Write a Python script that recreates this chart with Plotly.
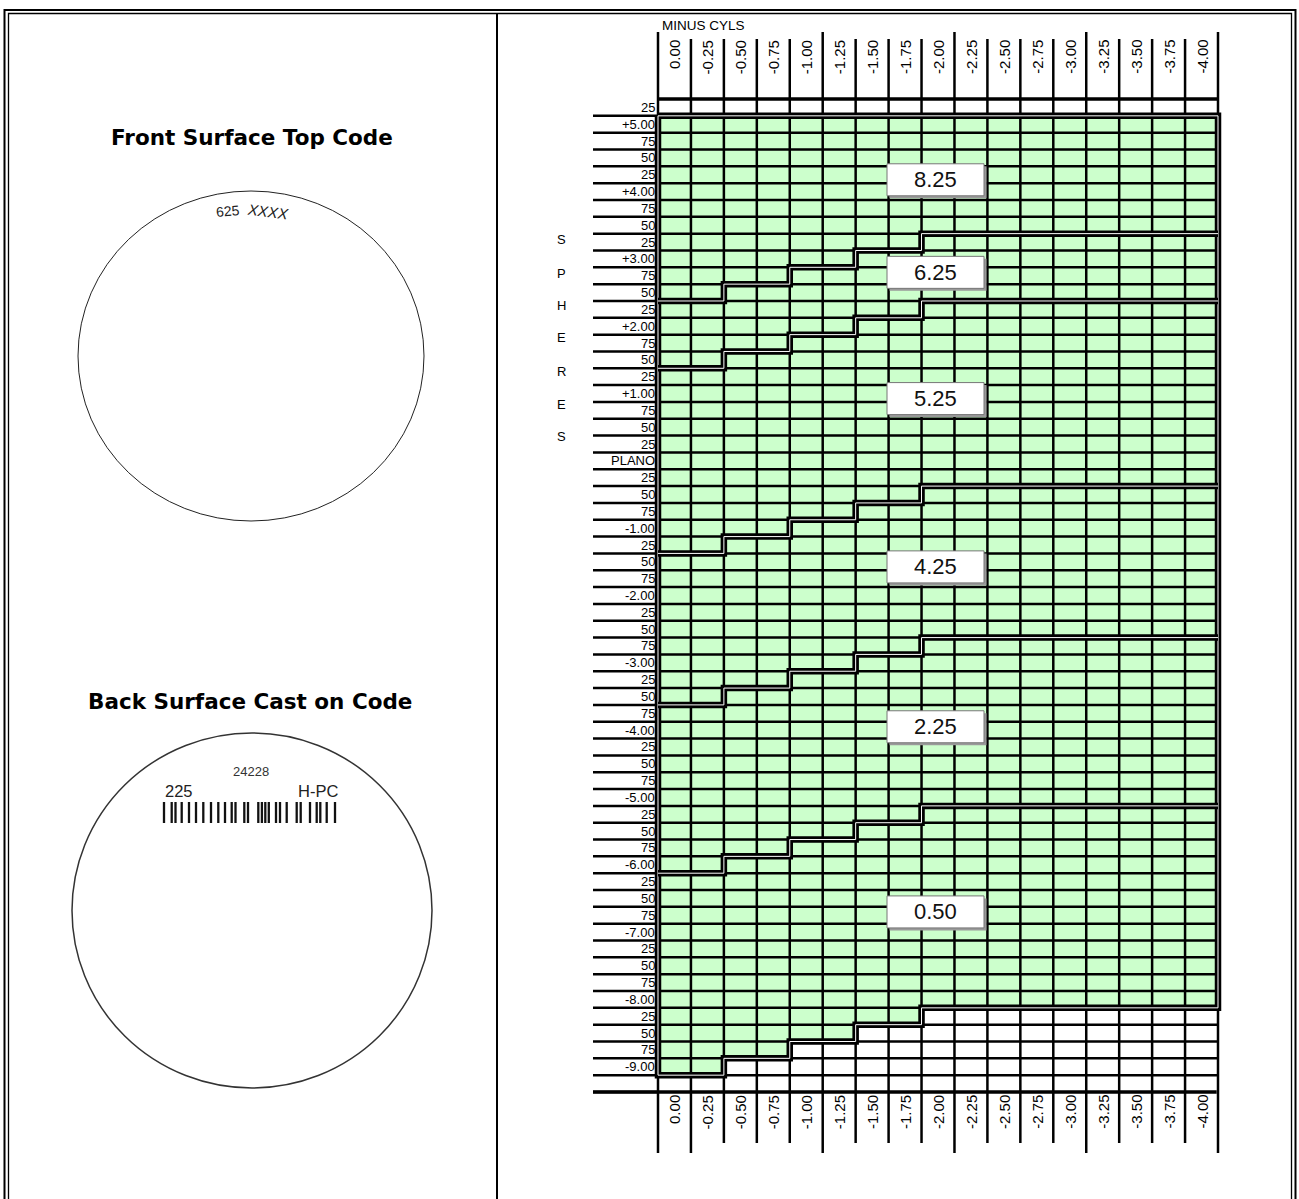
import plotly.graph_objects as go

W, H = 1299, 1199

# ---------------- data ----------------
cyl_values = [0.00, -0.25, -0.50, -0.75, -1.00, -1.25, -1.50, -1.75, -2.00,
              -2.25, -2.50, -2.75, -3.00, -3.25, -3.50, -3.75, -4.00]
cyl_labels = ["0.00", "-0.25", "-0.50", "-0.75", "-1.00", "-1.25", "-1.50", "-1.75", "-2.00",
              "-2.25", "-2.50", "-2.75", "-3.00", "-3.25", "-3.50", "-3.75", "-4.00"]

sphere_values = [5.25, 5.00, 4.75, 4.50, 4.25, 4.00, 3.75, 3.50, 3.25, 3.00, 2.75, 2.50,
                 2.25, 2.00, 1.75, 1.50, 1.25, 1.00, 0.75, 0.50, 0.25, 0.00, -0.25, -0.50,
                 -0.75, -1.00, -1.25, -1.50, -1.75, -2.00, -2.25, -2.50, -2.75, -3.00, -3.25,
                 -3.50, -3.75, -4.00, -4.25, -4.50, -4.75, -5.00, -5.25, -5.50, -5.75, -6.00,
                 -6.25, -6.50, -6.75, -7.00, -7.25, -7.50, -7.75, -8.00, -8.25, -8.50, -8.75,
                 -9.00, -9.25]
sphere_labels = ["25", "+5.00", "75", "50", "25", "+4.00", "75", "50", "25", "+3.00", "75", "50",
                 "25", "+2.00", "75", "50", "25", "+1.00", "75", "50", "25", "PLANO", "25", "50",
                 "75", "-1.00", "25", "50", "75", "-2.00", "25", "50", "75", "-3.00", "25",
                 "50", "75", "-4.00", "25", "50", "75", "-5.00", "25", "50", "75", "-6.00",
                 "25", "50", "75", "-7.00", "25", "50", "75", "-8.00", "25", "50", "75",
                 "-9.00", ""]

base_curves = ["8.25", "6.25", "5.25", "4.25", "2.25", "0.50"]
zone_top_sphere = 5.00
# sphere of the first row below each base-curve zone, per cylinder column
end_8_25 = [2.25, 2.25, 2.50, 2.50, 2.75, 2.75, 3.00, 3.00, 3.25, 3.25, 3.25, 3.25, 3.25, 3.25, 3.25, 3.25, 3.25]
end_6_25 = [1.25, 1.25, 1.50, 1.50, 1.75, 1.75, 2.00, 2.00, 2.25, 2.25, 2.25, 2.25, 2.25, 2.25, 2.25, 2.25, 2.25]
end_5_25 = [-1.50, -1.50, -1.25, -1.25, -1.00, -1.00, -0.75, -0.75, -0.50, -0.50, -0.50, -0.50, -0.50, -0.50, -0.50, -0.50, -0.50]
end_4_25 = [-3.75, -3.75, -3.50, -3.50, -3.25, -3.25, -3.00, -3.00, -2.75, -2.75, -2.75, -2.75, -2.75, -2.75, -2.75, -2.75, -2.75]
end_2_25 = [-6.25, -6.25, -6.00, -6.00, -5.75, -5.75, -5.50, -5.50, -5.25, -5.25, -5.25, -5.25, -5.25, -5.25, -5.25, -5.25, -5.25]
end_0_50 = [-9.25, -9.25, -9.00, -9.00, -8.75, -8.75, -8.50, -8.50, -8.25, -8.25, -8.25, -8.25, -8.25, -8.25, -8.25, -8.25, -8.25]
zone_ends = [end_8_25, end_6_25, end_5_25, end_4_25, end_2_25, end_0_50]

# ---------------- geometry (pixels) ----------------
GX0, GX1 = 658.0, 1218.0      # grid left/right
GY0, GY1 = 99.0, 1092.0       # grid top/bottom
ncol = len(cyl_values)
nrow = len(sphere_values)
colw = (GX1 - GX0) / ncol
roww = (GY1 - GY0) / nrow
cstep = cyl_values[0] - cyl_values[1]
sstep = sphere_values[0] - sphere_values[1]
ch, sh = cstep / 2, sstep / 2


def x_at(p):
    return cyl_values[0] + ch - (p - GX0) * cstep / colw


def y_at(p):
    return sphere_values[0] + sh - (p - GY0) * sstep / roww


def px(p):
    return p / W


def py(p):
    return 1 - p / H


FONT = "Liberation Sans, Arial, sans-serif"
GREEN = "#CCFFCC"

fig = go.Figure()

x_left = cyl_values[0] + ch
x_right = cyl_values[-1] - ch
y_top = sphere_values[0] + sh
y_bot = sphere_values[-1] - sh
y_green_top = zone_top_sphere + sh

# green region polygon
gx = [x_left, x_right]
gy = [y_green_top, y_green_top]
for j in range(ncol - 1, -1, -1):
    yb = end_0_50[j] + sh
    gx += [cyl_values[j] - ch, cyl_values[j] + ch]
    gy += [yb, yb]
gx.append(x_left)
gy.append(y_green_top)
fig.add_trace(go.Scatter(x=gx, y=gy, fill="toself", fillcolor=GREEN, mode="lines",
                         line=dict(width=0), hoverinfo="skip"))

# grid lines
lx, ly = [], []
for j in range(ncol + 1):
    xe = cyl_values[0] + ch - j * cstep
    lx += [xe, xe, None]
    ly += [y_top, y_bot, None]
for i in range(1, nrow):
    ye = sphere_values[i] + sh
    lx += [x_left, x_right, None]
    ly += [ye, ye, None]
# label column lines
xl_lab = x_at(593)
for i in range(1, nrow + 1):
    ye = sphere_values[i - 1] - sh
    lx += [xl_lab, x_left, None]
    ly += [ye, ye, None]
# header / footer extensions
long_top = [0, 5, 9, 13, 17]
long_bot = [0, 1, 5, 9, 13, 17]
for j in range(ncol + 1):
    xe = cyl_values[0] + ch - j * cstep
    lx += [xe, xe, None]
    ly += [y_at(32 if j in long_top else 39), y_top, None]
    lx += [xe, xe, None]
    ly += [y_bot, y_at(1153 if j in long_bot else 1143), None]
fig.add_trace(go.Scatter(x=lx, y=ly, mode="lines", line=dict(color="black", width=2.5),
                         hoverinfo="skip"))
# thick top / bottom edges
fig.add_trace(go.Scatter(x=[x_left, x_right, None, xl_lab, x_right + 0.01],
                         y=[y_top, y_top, None, y_bot, y_bot],
                         mode="lines", line=dict(color="black", width=3.4), hoverinfo="skip"))


def double_line(xs, ys):
    fig.add_trace(go.Scatter(x=xs, y=ys, mode="lines", line=dict(color="black", width=6.5),
                             hoverinfo="skip"))
    fig.add_trace(go.Scatter(x=xs, y=ys, mode="lines", line=dict(color="white", width=1.0),
                             hoverinfo="skip"))


# green outline
double_line(gx, gy)
# zone boundaries
for ends in zone_ends[:-1]:
    bx, by = [], []
    for j in range(ncol):
        yb = ends[j] + sh
        bx += [cyl_values[j] + ch, cyl_values[j] - ch]
        by += [yb, yb]
    double_line(bx, by)

shapes = []
annotations = []

# zone label boxes
bx0, bx1 = x_at(887), x_at(984)
sx0, sx1 = x_at(889.5), x_at(986.5)
dy2 = 2.5 * sstep / roww
half_h = 16 * sstep / roww
prev_bottom = y_green_top
for lab, ends in zip(base_curves, zone_ends):
    bottom = ends[-1] + sh
    mid = (prev_bottom + bottom) / 2 - 0.3 * sstep
    prev_bottom = bottom
    shapes.append(dict(type="rect", xref="x", yref="y", x0=sx0, x1=sx1,
                       y0=mid - half_h - dy2, y1=mid + half_h - dy2,
                       fillcolor="#9a9a9a", line=dict(width=0), layer="above"))
    shapes.append(dict(type="rect", xref="x", yref="y", x0=bx0, x1=bx1,
                       y0=mid - half_h, y1=mid + half_h,
                       fillcolor="white", line=dict(color="#777777", width=1), layer="above"))
    annotations.append(dict(x=(bx0 + bx1) / 2, y=mid, xref="x", yref="y", text=lab,
                            showarrow=False, font=dict(family=FONT, size=22, color="#111"),
                            xanchor="center", yanchor="middle"))

# row labels
for s, lab in zip(sphere_values, sphere_labels):
    if lab:
        annotations.append(dict(x=x_at(656), y=s, xref="x", yref="y", text=lab, showarrow=False,
                                font=dict(family=FONT, size=13, color="black"),
                                xanchor="right", yanchor="middle", borderpad=0))

# column labels top & bottom
for c, lab in zip(cyl_values, cyl_labels):
    for ytop in (39, 1094):
        annotations.append(dict(x=c, y=y_at(ytop), xref="x", yref="y", text=lab,
                                showarrow=False, textangle=-90,
                                font=dict(family=FONT, size=15, color="black"),
                                xanchor="center", yanchor="top", borderpad=0))

annotations.append(dict(x=px(660), y=py(25), xref="paper", yref="paper", text="MINUS CYLS",
                        showarrow=False, font=dict(family=FONT, size=13.5, color="black"),
                        xanchor="left", yanchor="middle"))
for ch_, yy in zip("SPHERES", [240, 273, 305, 338, 371, 404, 436]):
    annotations.append(dict(x=px(561), y=py(yy), xref="paper", yref="paper", text=ch_,
                            showarrow=False, font=dict(family=FONT, size=13, color="black"),
                            xanchor="center", yanchor="middle"))

# ---------------- left panel & frame ----------------
shapes.append(dict(type="rect", xref="paper", yref="paper", x0=px(4.5), x1=px(1295.5),
                   y0=py(1215), y1=py(10), line=dict(color="black", width=2)))
shapes.append(dict(type="rect", xref="paper", yref="paper", x0=px(8.5), x1=px(1291.5),
                   y0=py(1215), y1=py(13.5), line=dict(color="black", width=1.3)))
shapes.append(dict(type="line", xref="paper", yref="paper", x0=px(497), x1=px(497),
                   y0=py(13), y1=py(1215), line=dict(color="black", width=2)))

# lens circles
shapes.append(dict(type="circle", xref="paper", yref="paper", x0=px(78), x1=px(424),
                   y0=py(521), y1=py(191), line=dict(color="#222", width=1)))
shapes.append(dict(type="circle", xref="paper", yref="paper", x0=px(72), x1=px(432),
                   y0=py(1088), y1=py(733), line=dict(color="#333", width=1.5)))

annotations.append(dict(x=px(252), y=py(138), xref="paper", yref="paper",
                        text="<b>Front Surface Top Code</b>", showarrow=False,
                        font=dict(family="DejaVu Sans", size=21.5, color="black"),
                        xanchor="center", yanchor="middle"))
annotations.append(dict(x=px(250), y=py(701), xref="paper", yref="paper",
                        text="<b>Back Surface Cast on Code</b>", showarrow=False,
                        font=dict(family="DejaVu Sans", size=21.5, color="black"),
                        xanchor="center", yanchor="middle"))
annotations.append(dict(x=px(228), y=py(211), xref="paper", yref="paper", text="625",
                        showarrow=False, textangle=-5,
                        font=dict(family=FONT, size=14, color="#222"),
                        xanchor="center", yanchor="middle"))
annotations.append(dict(x=px(268), y=py(211), xref="paper", yref="paper", text="<i>XXXX</i>",
                        showarrow=False, textangle=7,
                        font=dict(family=FONT, size=15, color="#222"),
                        xanchor="center", yanchor="middle"))
annotations.append(dict(x=px(251), y=py(771), xref="paper", yref="paper", text="24228",
                        showarrow=False, font=dict(family=FONT, size=13, color="#333"),
                        xanchor="center", yanchor="middle"))
annotations.append(dict(x=px(179), y=py(791), xref="paper", yref="paper", text="225",
                        showarrow=False, font=dict(family=FONT, size=16.5, color="#222"),
                        xanchor="center", yanchor="middle"))
annotations.append(dict(x=px(318), y=py(791), xref="paper", yref="paper", text="H-PC",
                        showarrow=False, font=dict(family=FONT, size=16.5, color="#222"),
                        xanchor="center", yanchor="middle"))
barcode_px = [164, 171.7, 175.5, 181.7, 189, 196, 203.3, 211, 218.3, 225, 231.7, 235.5, 244.3, 248,
              258.3, 261.9, 265.3, 268.8, 276, 280, 286.7, 296.7, 300.7, 310, 316.7, 320.3, 326.7, 335]
for b in barcode_px:
    shapes.append(dict(type="line", xref="paper", yref="paper", x0=px(b), x1=px(b),
                       y0=py(823), y1=py(802), line=dict(color="#111", width=2.3)))

fig.update_layout(
    width=W, height=H, autosize=False,
    margin=dict(l=0, r=0, t=0, b=0),
    paper_bgcolor="white", plot_bgcolor="white",
    showlegend=False,
    xaxis=dict(visible=False, range=[x_at(0), x_at(W)], domain=[0, 1], fixedrange=True),
    yaxis=dict(visible=False, range=[y_at(H), y_at(0)], domain=[0, 1], fixedrange=True),
    shapes=shapes, annotations=annotations,
)

fig.write_html("out.html", config={"displayModeBar": False},
               post_script="document.body.style.margin='0px';document.body.style.overflow='hidden';")
